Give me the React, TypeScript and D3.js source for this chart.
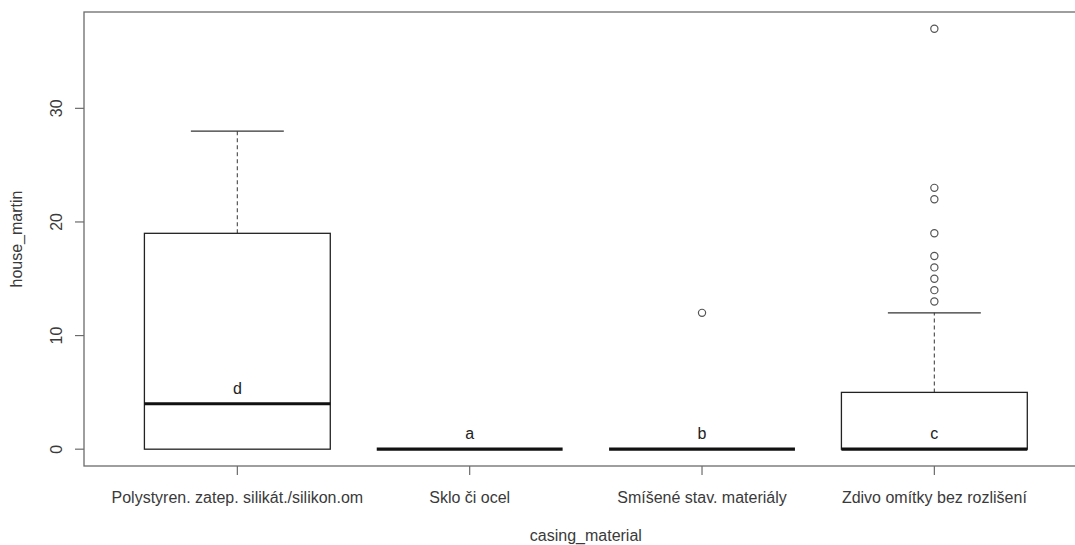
import React from "react";
import * as d3 from "d3";

const categories = [
  "Polystyren. zatep. silikát./silikon.om",
  "Sklo či ocel",
  "Smíšené stav. materiály",
  "Zdivo omítky bez rozlišení",
];
const whiskerLow = [0, 0, 0, 0];
const q1 = [0, 0, 0, 0];
const medians = [4, 0, 0, 0];
const q3 = [19, 0, 0, 5];
const whiskerHigh = [28, 0, 0, 12];
const outliers: number[][] = [[], [], [12], [13, 14, 15, 16, 17, 19, 22, 23, 37]];
const groupLetters = ["d", "a", "b", "c"];
const yTicks = [0, 10, 20, 30];

const W = 1075;
const H = 545;
const left = 84;
const top = 12;
const bottom = 466;

export default function App() {
  const n = categories.length;
  const x = d3.scaleLinear().domain([0.34, n + 0.66]).range([left, left + 1003.7]);
  const y = d3.scaleLinear().domain([-1.48, 38.48]).range([bottom, top]);
  const bw = x(1.4) - x(0.6);
  const font = "'Liberation Sans', Arial, sans-serif";
  const axisCol = "#6b6b6b";
  const textCol = "#3a3a3a";
  const right = x(n + 0.66);
  const fs = 16;

  return (
    <svg width={W} height={H} style={{ position: "absolute", left: 0, top: 0, background: "#fff" }}>
      <rect x={left} y={top} width={right - left} height={bottom - top} fill="none" stroke={axisCol} strokeWidth={1.3} />
      {yTicks.map((t) => (
        <g key={t}>
          <line x1={left - 9} x2={left} y1={y(t)} y2={y(t)} stroke={axisCol} strokeWidth={1.2} />
          <text
            transform={`translate(${left - 22},${y(t)}) rotate(-90)`}
            textAnchor="middle"
            fontFamily={font}
            fontSize={fs}
            fill={textCol}
          >
            {t}
          </text>
        </g>
      ))}
      {categories.map((c, i) => (
        <g key={c}>
          <line x1={x(i + 1)} x2={x(i + 1)} y1={bottom} y2={bottom + 9} stroke={axisCol} strokeWidth={1.2} />
          <text x={x(i + 1)} y={503} textAnchor="middle" fontFamily={font} fontSize={fs} fill={textCol}>
            {c}
          </text>
        </g>
      ))}
      <text x={(left + right) / 2} y={541} textAnchor="middle" fontFamily={font} fontSize={fs} fill={textCol}>
        casing_material
      </text>
      <text
        transform={`translate(22,${(top + bottom) / 2}) rotate(-90)`}
        textAnchor="middle"
        fontFamily={font}
        fontSize={fs}
        fill={textCol}
      >
        house_martin
      </text>
      {categories.map((c, i) => {
        const cx = x(i + 1);
        const x0 = cx - bw / 2;
        const staple = bw / 2;
        return (
          <g key={"b" + i}>
            {whiskerHigh[i] > q3[i] && (
              <>
                <line x1={cx} x2={cx} y1={y(q3[i])} y2={y(whiskerHigh[i])} stroke="#555" strokeWidth={1.2} strokeDasharray="4,3" />
                <line x1={cx - staple / 2} x2={cx + staple / 2} y1={y(whiskerHigh[i])} y2={y(whiskerHigh[i])} stroke="#333" strokeWidth={1.3} />
              </>
            )}
            {whiskerLow[i] < q1[i] && (
              <>
                <line x1={cx} x2={cx} y1={y(q1[i])} y2={y(whiskerLow[i])} stroke="#555" strokeWidth={1.2} strokeDasharray="4,3" />
                <line x1={cx - staple / 2} x2={cx + staple / 2} y1={y(whiskerLow[i])} y2={y(whiskerLow[i])} stroke="#333" strokeWidth={1.3} />
              </>
            )}
            {q3[i] > q1[i] && (
              <rect x={x0} y={y(q3[i])} width={bw} height={y(q1[i]) - y(q3[i])} fill="#fff" stroke="#222" strokeWidth={1.3} />
            )}
            <line x1={x0} x2={x0 + bw} y1={y(medians[i])} y2={y(medians[i])} stroke="#111" strokeWidth={3.2} />
            {outliers[i].map((o, k) => (
              <circle key={k} cx={cx} cy={y(o)} r={3.6} fill="none" stroke="#555" strokeWidth={1.2} />
            ))}
            <text x={cx} y={y(medians[i]) - 10} textAnchor="middle" fontFamily={font} fontSize={fs} fill="#222">
              {groupLetters[i]}
            </text>
          </g>
        );
      })}
    </svg>
  );
}
